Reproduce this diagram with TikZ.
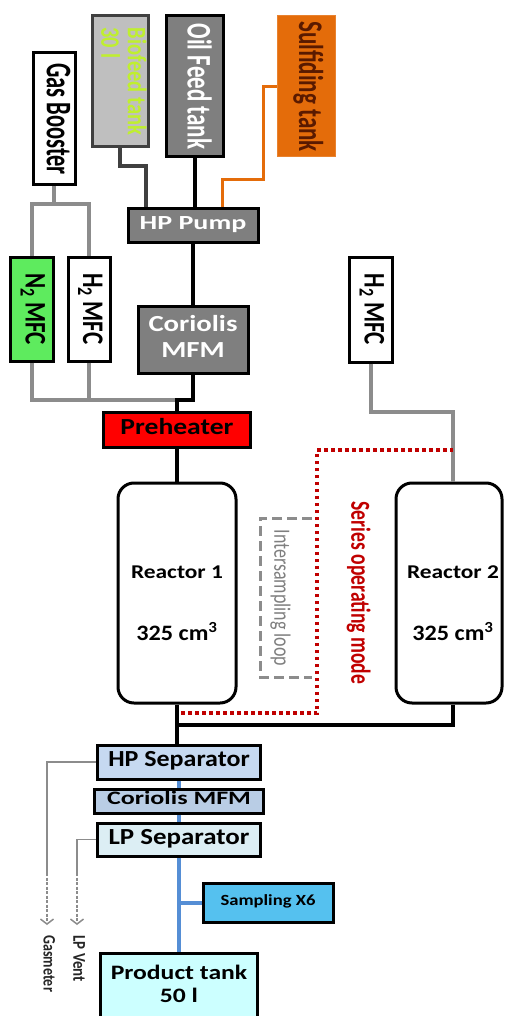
\documentclass[tikz,border=0pt]{standalone}
\usepackage{fontspec}
\setmainfont{Carlito}
\usepackage{graphicx}
\usetikzlibrary{arrows.meta,positioning,calc}
\definecolor{OilGray}{HTML}{7F7F7F}
\definecolor{BioGray}{HTML}{BFBFBF}
\definecolor{BioEdge}{HTML}{404040}
\definecolor{BioText}{HTML}{BFEF2F}
\definecolor{SulfOrange}{HTML}{E46C0A}
\definecolor{SulfText}{HTML}{5A1A00}
\definecolor{GasGray}{HTML}{8C8C8C}
\definecolor{NGreen}{HTML}{5EEB5E}
\definecolor{SeriesRed}{HTML}{C00000}
\definecolor{HPBlue}{HTML}{C6D9F1}
\definecolor{CorBlue}{HTML}{B9CDE5}
\definecolor{LPBlue}{HTML}{DCEEF4}
\definecolor{SampBlue}{HTML}{55C1EF}
\definecolor{ProdCyan}{HTML}{CCFFFF}
\definecolor{PipeBlue}{HTML}{558ED5}

% text helpers: size, stretch, lines
\newcommand{\htext}[3]{\scalebox{#2}[1]{\fontsize{#1}{#1}\selectfont\begin{tabular}{@{}c@{}}#3\end{tabular}}}
\newcommand{\vtext}[3]{\rotatebox{-90}{\scalebox{1}[#2]{\fontsize{#1}{#1}\selectfont\begin{tabular}{@{}l@{}}#3\end{tabular}}}}

\begin{document}
\begin{tikzpicture}[x=1pt,y=-1pt,font=\bfseries,
  box/.style={draw=black,line width=3pt,inner sep=0pt},
  procline/.style={line width=4pt,black},
  feedline/.style={line width=4pt,BioEdge},
  gasline/.style={line width=4pt,GasGray},
  sulfline/.style={line width=3pt,SulfOrange},
  pipeline/.style={line width=4pt,PipeBlue},
  ventline/.style={line width=1.5pt,GasGray},
  seriesline/.style={line width=3.5pt,SeriesRed,dash pattern=on 3.5pt off 3.5pt},
  loopline/.style={line width=3pt,GasGray,dash pattern=on 10pt off 5pt}]
  \useasboundingbox (0,0) rectangle (504,1016);

  % feed tanks and pump
  \node[box,fill=white,minimum width=42pt,minimum height=132pt] (booster) at (54,119) {\vtext{22.5}{1.6}{Gas Booster}};
  \node[box,draw=BioEdge,fill=BioGray,text=BioText,minimum width=56pt,minimum height=131pt] (biofeed) at (120,81.5) {\vtext{20.5}{1.3}{Biofeed tank\\30 l}};
  \node[box,fill=OilGray,text=white,minimum width=57pt,minimum height=141pt] (oiltank) at (194.5,86.5) {\vtext{23}{1.5}{Oil Feed tank}};
  \node[box,draw=SulfOrange!85!white,line width=1pt,fill=SulfOrange,text=SulfText,minimum width=58pt,minimum height=141pt] (sulftank) at (306,86.5) {\vtext{23}{1.5}{Sulfiding tank}};
  \node[box,fill=OilGray,text=white,minimum width=130pt,minimum height=33pt] (pump) at (193,225.5) {\htext{20}{1.4}{HP Pump}};

  % gas feed
  \node[box,fill=NGreen,minimum width=43pt,minimum height=104pt] (ntwomfc) at (31.5,309) {\vtext{23}{1.3}{N\textsubscript{2} MFC}};
  \node[box,fill=white,minimum width=42pt,minimum height=104pt] (htwomfc) at (89,309) {\vtext{23}{1.3}{H\textsubscript{2} MFC}};
  \node[box,fill=white,minimum width=43pt,minimum height=105pt] (htwomfcb) at (370.5,309.5) {\vtext{23}{1.3}{H\textsubscript{2} MFC}};

  \node[box,fill=OilGray,text=white,minimum width=110pt,minimum height=67pt] (coriolis) at (193,339.5) {\htext{23}{1.25}{Coriolis\\[3pt]MFM}};
  \node[box,fill=red,minimum width=147pt,minimum height=35pt] (preheater) at (177,429.5) {\htext{23}{1.2}{Preheater}};

  % reactors
  \node[box,rounded corners=16pt,minimum width=118pt,minimum height=220pt] (reactorA) at (177,593) {};
  \node[box,rounded corners=16pt,minimum width=106pt,minimum height=220pt] (reactorB) at (449,593) {};
  \node (reactorAname) at ([yshift=18pt]reactorA.center) {\htext{19.5}{1.2}{Reactor 1}};
  \node (reactorAvol) at ([yshift=-42pt]reactorA.center) {\htext{22}{1.1}{325 cm\textsuperscript{3}}};
  \node (reactorBname) at ([xshift=4pt,yshift=18pt]reactorB.center) {\htext{19.5}{1.2}{Reactor 2}};
  \node (reactorBvol) at ([xshift=4pt,yshift=-42pt]reactorB.center) {\htext{22}{1.1}{325 cm\textsuperscript{3}}};

  \node[font=\mdseries,text=OilGray] (looptext) at (279,598) {\vtext{18}{1.3}{Intersampling loop}};
  \draw[loopline] (312,518) -- (260,518) -- (260,677) -- (312,677);
  \node[text=SeriesRed] (seriestext) at (357,593) {\vtext{19.6}{1.4}{Series operating mode}};

  % separation train
  \node[box,fill=HPBlue,minimum width=163pt,minimum height=34pt] (hpsep) at (179,762) {\htext{23}{1.13}{HP Separator}};
  \node[box,fill=CorBlue,minimum width=169pt,minimum height=24pt] (coriolisb) at (179,801) {\htext{19}{1.37}{Coriolis MFM}};
  \node[box,fill=LPBlue,minimum width=163pt,minimum height=33pt] (lpsep) at (179,839.5) {\htext{23}{1.17}{LP Separator}};
  \node[box,fill=SampBlue,minimum width=130pt,minimum height=39pt] (sampling) at (268,902.5) {\htext{15.5}{1.2}{Sampling X6}};
  \node[box,fill=ProdCyan,minimum width=157pt,minimum height=67pt] (prodtank) at (179,986.5) {\htext{20.5}{1.25}{Product tank\\[2.5pt]50 l}};

  % lines
  \draw[feedline] (biofeed.south) -- ++(0,18) -| ([xshift=-47pt]pump.north);
  \draw[procline] (oiltank.south) -- (oiltank.south |- pump.north);
  \draw[sulfline] ([xshift=29pt]pump.north) -- ++(0,-28) -| ([xshift=-13pt]sulftank.west) -- (sulftank.west);

  \draw[gasline] (booster.south) -- ++(0,18) coordinate (gbsplit);
  \draw[gasline] (ntwomfc.north) |- (gbsplit) -| (htwomfc.north);
  \coordinate (mix) at (177,400);
  \draw[gasline] (ntwomfc.south) |- (mix);
  \draw[gasline] (htwomfc.south) -- (htwomfc.south |- mix);
  \draw[procline] (pump.south) -- (coriolis.north);
  \draw[procline] (coriolis.south) |- (mix) -- (preheater.north);
  \draw[procline] (preheater.south) -- (reactorA.north);
  \draw[gasline] (htwomfcb.south) -- ++(0,48) -| ([xshift=4pt]reactorB.north);

  \coordinate (join) at (177,725);
  \draw[procline] (reactorA.south) -- (reactorA.south |- hpsep.north);
  \draw[procline] ([xshift=4pt]reactorB.south) |- (join);
  \draw[seriesline] (181,713) -| (317,450) -- (453,450);

  \draw[pipeline] (hpsep.south) -- (coriolisb.north);
  \draw[pipeline] (coriolisb.south) -- (lpsep.north);
  \draw[pipeline] (lpsep.south) -- (prodtank.north);
  \draw[pipeline] (lpsep.south |- sampling.west) -- (sampling.west);

  % vents
  \coordinate (gasend) at (47,925);
  \coordinate (ventend) at (77,925);
  \draw[ventline] (hpsep.west) -| ([yshift=52pt]gasend);
  \draw[ventline,dash pattern=on 3pt off 1.5pt,-{Straight Barb[length=5pt,width=13pt]}] ([yshift=52pt]gasend) -- (gasend);
  \draw[ventline] (lpsep.west) -| ([yshift=52pt]ventend);
  \draw[ventline,dash pattern=on 3pt off 1.5pt,-{Straight Barb[length=5pt,width=13pt]}] ([yshift=52pt]ventend) -- (ventend);
  \node[anchor=north,text=black!85] (gaslabel) at ([yshift=-7pt]gasend) {\vtext{14}{1.25}{Gasmeter}};
  \node[anchor=north,text=black!85] (ventlabel) at ([yshift=-7pt]ventend) {\vtext{15}{1.2}{LP Vent}};
\end{tikzpicture}
\end{document}
